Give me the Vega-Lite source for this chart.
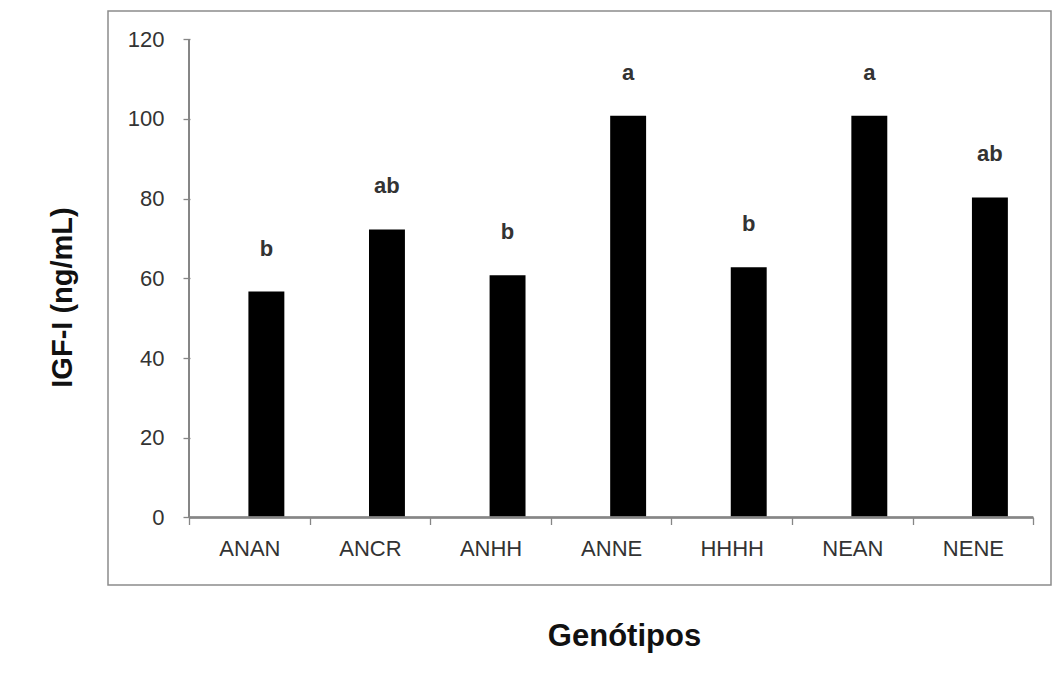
{
  "$schema": "https://vega.github.io/schema/vega-lite/v6.json",
  "autosize": "none",
  "width": 943,
  "height": 574,
  "padding": {"left": 108, "top": 11, "right": 2, "bottom": 92},
  "background": "white",
  "config": {
    "view": {"stroke": "#8c8c8c", "strokeWidth": 1.5},
    "font": "Liberation Sans"
  },
  "data": {
    "values": [
      {"genotipo": "ANAN", "igf": 56.7, "letra": "b"},
      {"genotipo": "ANCR", "igf": 72.3, "letra": "ab"},
      {"genotipo": "ANHH", "igf": 60.8, "letra": "b"},
      {"genotipo": "ANNE", "igf": 100.8, "letra": "a"},
      {"genotipo": "HHHH", "igf": 62.8, "letra": "b"},
      {"genotipo": "NEAN", "igf": 100.8, "letra": "a"},
      {"genotipo": "NENE", "igf": 80.3, "letra": "ab"}
    ]
  },
  "encoding": {
    "x": {
      "field": "genotipo",
      "type": "nominal",
      "sort": null,
      "scale": {"type": "band", "paddingInner": 0, "paddingOuter": 0.41, "align": 0.82},
      "axis": {
        "title": "Genótipos",
        "offset": -67.5,
        "domain": false,
        "tickBand": "extent",
        "tickSize": 7,
        "tickColor": "#868686",
        "tickWidth": 1.3,
        "labelAngle": 0,
        "labelPadding": 14,
        "labelFontSize": 22,
        "labelColor": "#333333",
        "titleFontSize": 31,
        "titleFontWeight": "bold",
        "titleColor": "#111111",
        "titleX": 516,
        "titleY": 119,
        "titleBaseline": "middle"
      }
    },
    "y": {
      "field": "igf",
      "type": "quantitative",
      "scale": {"domain": [-16.94, 127.1], "nice": false, "zero": false},
      "axis": {
        "title": "IGF-I (ng/mL)",
        "values": [0, 20, 40, 60, 80, 100, 120],
        "offset": -82,
        "domain": false,
        "grid": false,
        "tickSize": 7,
        "tickColor": "#868686",
        "tickWidth": 1.3,
        "labelPadding": 19,
        "labelFontSize": 22,
        "labelColor": "#333333",
        "titleFontSize": 29,
        "titleFontWeight": "bold",
        "titleColor": "#111111",
        "titleAngle": -90,
        "titleX": -128,
        "titleY": 286,
        "titleBaseline": "middle",
        "titleAlign": "center"
      }
    }
  },
  "layer": [
    {
      "mark": {"type": "bar", "color": "black", "width": {"band": 0.298}, "xOffset": 17},
      "encoding": {"y2": {"datum": 0}}
    },
    {
      "mark": {"type": "text", "fontSize": 22, "fontWeight": "bold", "color": "#333333", "dy": -43, "xOffset": 17, "baseline": "middle"},
      "encoding": {"text": {"field": "letra"}}
    },
    {
      "mark": {"type": "rule", "color": "#868686", "strokeWidth": 1.3},
      "encoding": {
        "x": {"datum": "ANAN", "type": "nominal", "bandPosition": 0},
        "y": {"datum": 0, "type": "quantitative"},
        "y2": {"datum": 120}
      }
    },
    {
      "mark": {"type": "rule", "color": "#868686", "strokeWidth": 1.3},
      "encoding": {
        "x": {"datum": "ANAN", "type": "nominal", "bandPosition": 0},
        "x2": {"datum": "NENE", "bandPosition": 1},
        "y": {"datum": 0, "type": "quantitative"}
      }
    }
  ]
}
